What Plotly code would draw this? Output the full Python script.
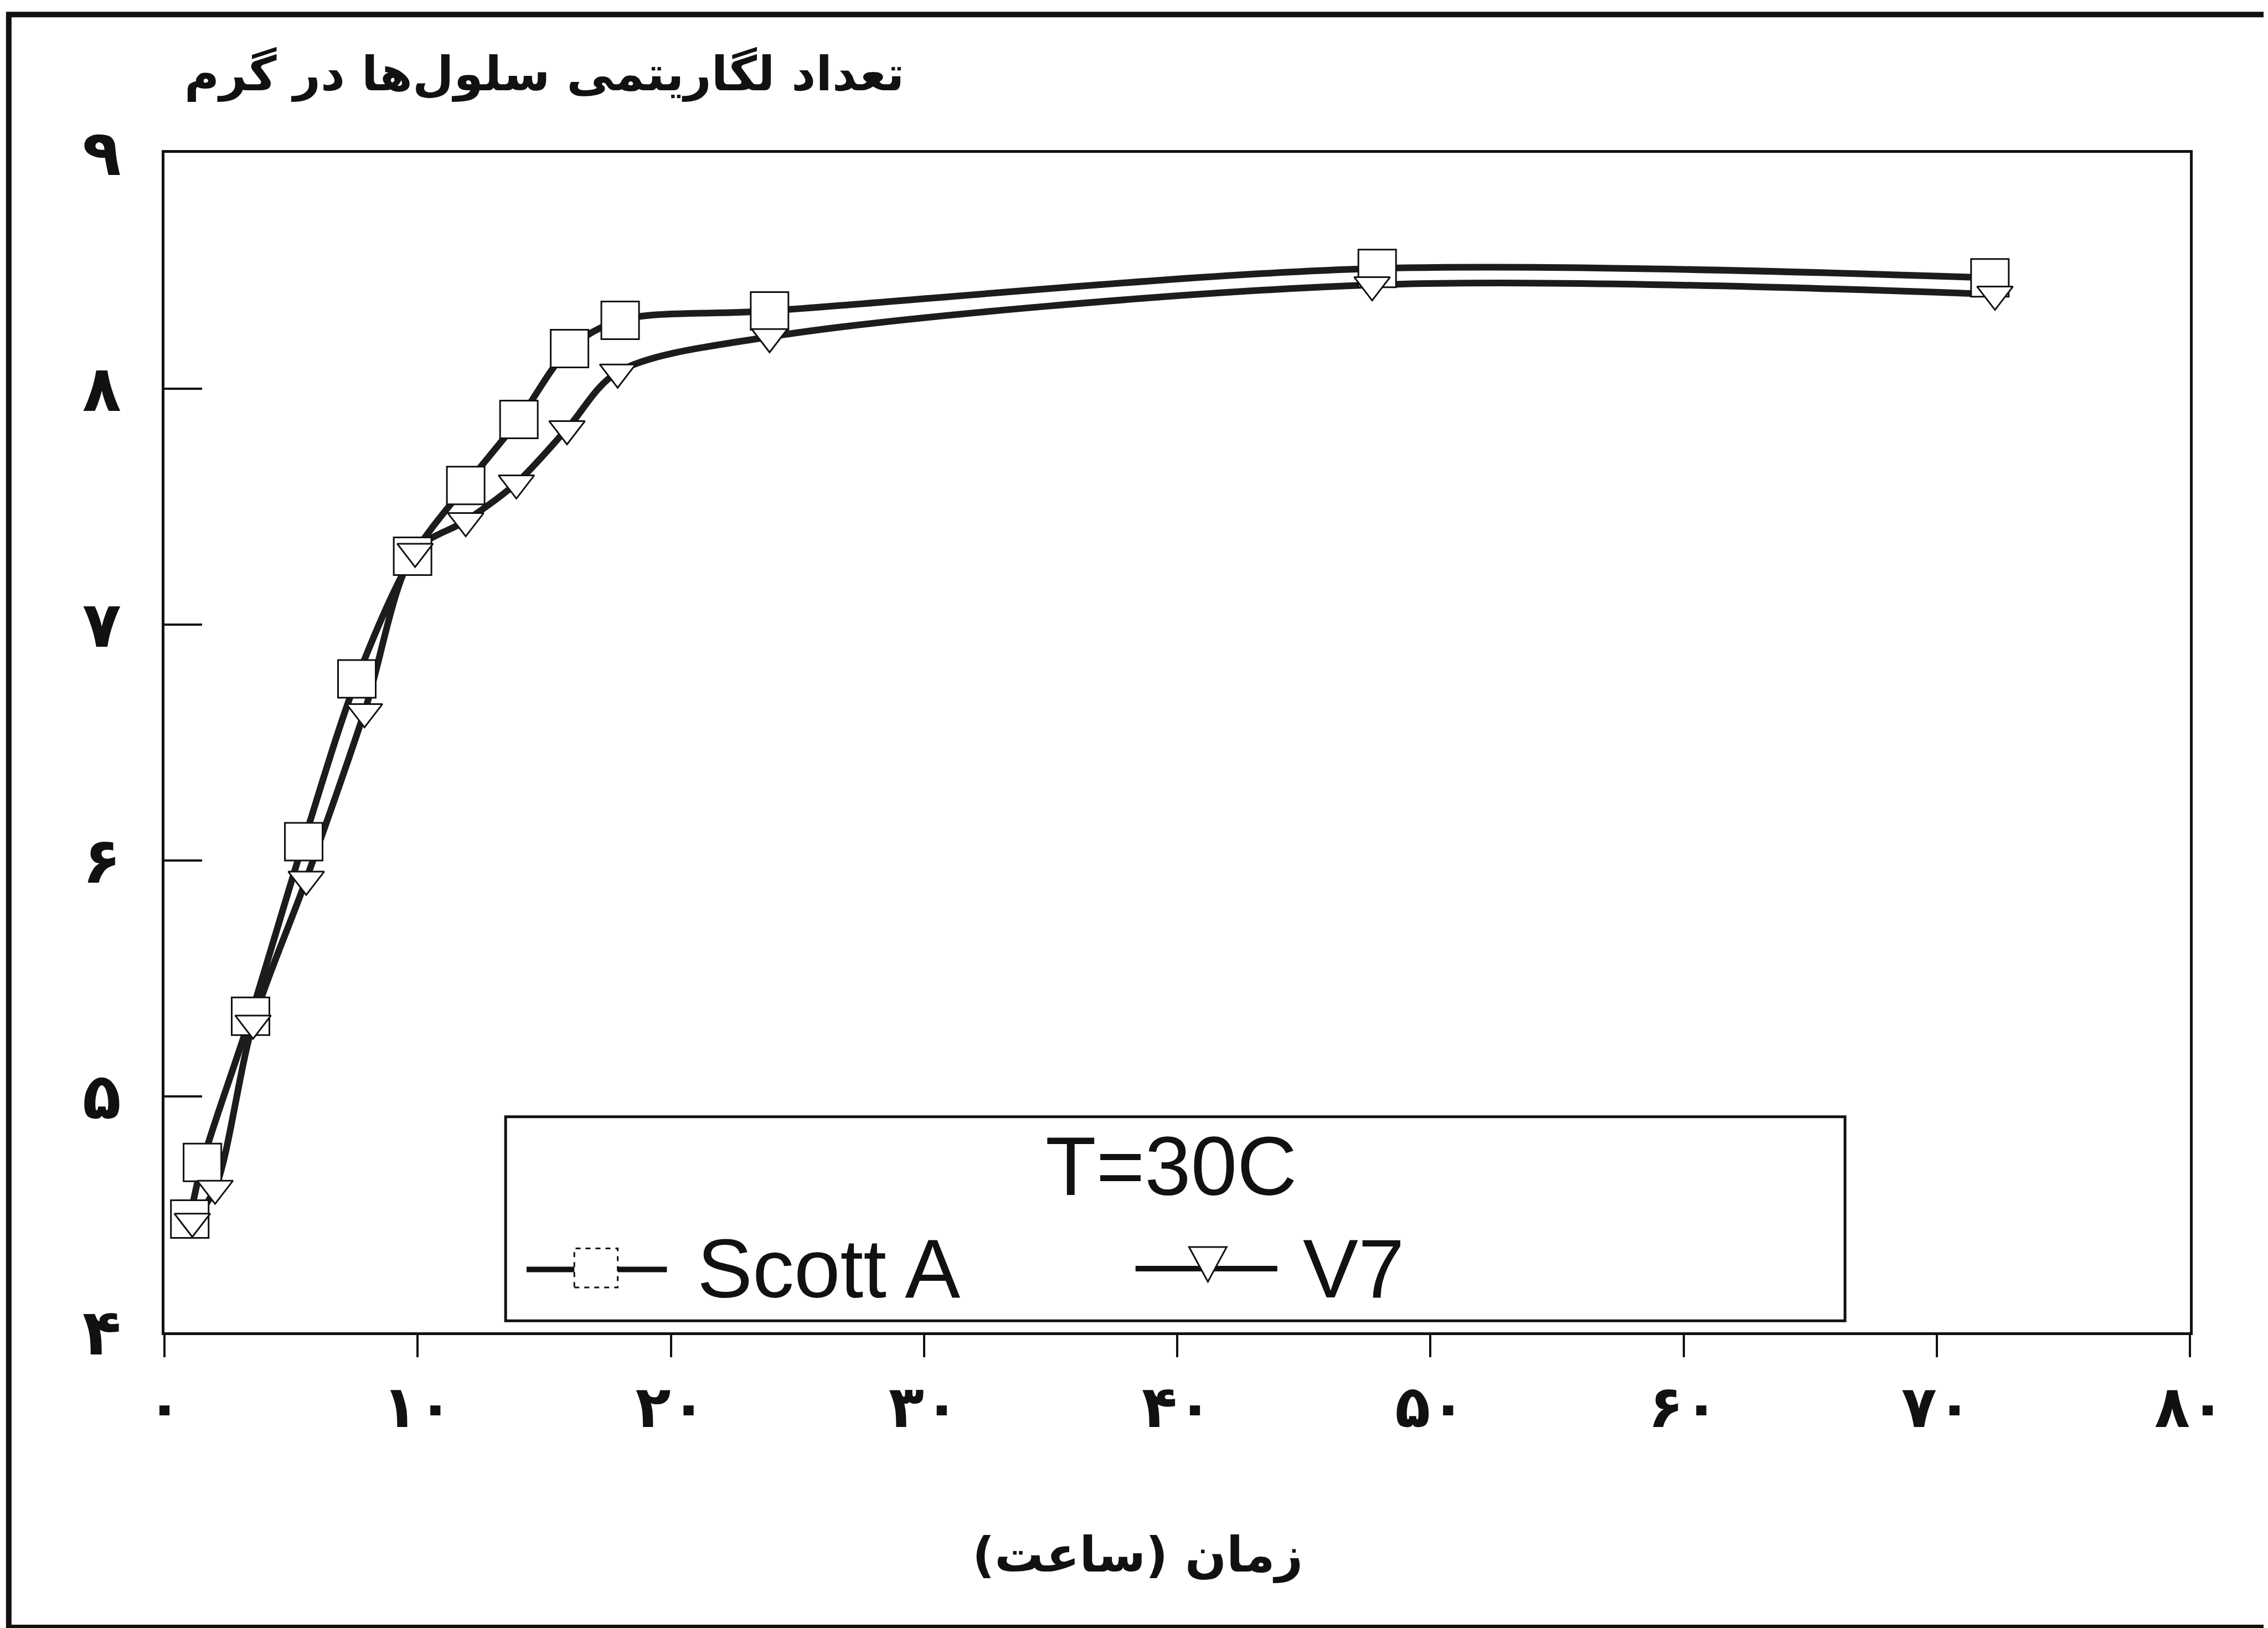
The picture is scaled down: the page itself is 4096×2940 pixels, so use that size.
import plotly.graph_objects as go

# ---------------- data ----------------
scott_time = [1.0, 1.5, 3.4, 5.5, 7.6, 9.8, 11.9, 14.0, 16.0, 18.0, 23.9, 47.9, 72.1]
scott_log = [4.48, 4.72, 5.34, 6.08, 6.77, 7.29, 7.59, 7.87, 8.17, 8.29, 8.33, 8.51, 8.47]
v7_time = [1.1, 2.0, 3.5, 5.6, 7.9, 9.9, 11.9, 13.9, 15.9, 17.9, 23.9, 47.7, 72.3]
v7_log = [4.47, 4.61, 5.31, 5.92, 6.63, 7.31, 7.44, 7.60, 7.83, 8.07, 8.22, 8.44, 8.40]

x_tickvals = [0, 10, 20, 30, 40, 50, 60, 70, 80]
x_ticktext = ["۰", "۱۰", "۲۰", "۳۰", "۴۰", "۵۰", "۶۰", "۷۰", "۸۰"]
y_tickvals = [4, 5, 6, 7, 8, 9]
y_ticktext = ["۴", "۵", "۶", "۷", "۸", "۹"]

y_title = "تعداد لگاریتمی سلول‌ها در گرم"
x_title = "زمان (ساعت)"
legend_title = "T=30C"
series_names = ["Scott A", "V7"]

# ---------------- layout geometry ----------------
W, H = 4096, 2940
S = W / 1568.0
ML, MR, MT, MB = 289, 149, 268, 542
PW = W - ML - MR
PH = H - MT - MB


def px(xd):
    return (xd * S - ML) / PW


def py(yd):
    return (H - MB - yd * S) / PH


INK = "#111111"
LINE = "#1c1c1c"
FA = "DejaVu Sans"
LA = "Liberation Sans, Arial, sans-serif"

fig = go.Figure()

# curves first
for t, v, nm in [(scott_time, scott_log, series_names[0]), (v7_time, v7_log, series_names[1])]:
    fig.add_trace(go.Scatter(
        x=t, y=v, mode="lines", name=nm, showlegend=False,
        line=dict(color=LINE, width=12, shape="spline", smoothing=0.9),
        hoverinfo="skip"))

# hollow markers on top
fig.add_trace(go.Scatter(
    x=scott_time, y=scott_log, mode="markers", name=series_names[0], showlegend=False,
    marker=dict(symbol="square", size=68, color="white", line=dict(color=INK, width=3))))
fig.add_trace(go.Scatter(
    x=v7_time, y=v7_log, mode="markers", name=series_names[1], showlegend=False,
    marker=dict(symbol="triangle-down", size=56, color="white", line=dict(color=INK, width=3))))

shapes = []
# outer frame of the picture
shapes.append(dict(type="rect", xref="paper", yref="paper",
                   x0=px(3), x1=px(1565), y0=py(1122), y1=py(7),
                   line=dict(color=INK, width=10), fillcolor="rgba(0,0,0,0)", layer="above"))
# legend box
shapes.append(dict(type="rect", xref="paper", yref="paper",
                   x0=px(346.5), x1=px(1272.5), y0=py(910), y1=py(769),
                   line=dict(color=INK, width=5), fillcolor="white", layer="above"))
# legend key 1 (line + square)
shapes.append(dict(type="line", xref="paper", yref="paper",
                   x0=px(361), x1=px(458), y0=py(874.5), y1=py(874.5),
                   line=dict(color=INK, width=10), layer="above"))
shapes.append(dict(type="rect", xref="paper", yref="paper",
                   x0=px(394), x1=px(424), y0=py(887), y1=py(860),
                   line=dict(color=INK, width=3, dash="dash"), fillcolor="white", layer="above"))
# legend key 2 (line + inverted triangle)
shapes.append(dict(type="line", xref="paper", yref="paper",
                   x0=px(782), x1=px(880), y0=py(874), y1=py(874),
                   line=dict(color=INK, width=10), layer="above"))
tri = "M {a},{b} L {c},{d} L {e},{f} Z".format(
    a=px(819), b=py(859), c=px(845), d=py(859), e=px(832), f=py(883))
shapes.append(dict(type="path", xref="paper", yref="paper", path=tri,
                   line=dict(color=INK, width=3), fillcolor="white", layer="above"))

annotations = [
    dict(text=y_title, xref="paper", yref="paper", x=px(623), y=py(48),
         xanchor="right", yanchor="middle", showarrow=False,
         font=dict(family=FA, size=86, color=INK, weight="bold")),
    dict(text=x_title, xref="paper", yref="paper", x=px(783.5), y=py(1071.5),
         xanchor="center", yanchor="middle", showarrow=False,
         font=dict(family=FA, size=88, color=INK, weight="bold")),
    dict(text=legend_title, xref="paper", yref="paper", x=px(806.5), y=py(803),
         xanchor="center", yanchor="middle", showarrow=False,
         font=dict(family=LA, size=150, color=INK)),
    dict(text=series_names[0], xref="paper", yref="paper", x=px(478), y=py(874),
         xanchor="left", yanchor="middle", showarrow=False,
         font=dict(family=LA, size=150, color=INK)),
    dict(text=series_names[1], xref="paper", yref="paper", x=px(897), y=py(874),
         xanchor="left", yanchor="middle", showarrow=False,
         font=dict(family=LA, size=150, color=INK)),
]

fig.update_layout(
    width=W, height=H,
    margin=dict(l=ML, r=MR, t=MT, b=MB),
    paper_bgcolor="white", plot_bgcolor="white",
    showlegend=False,
    shapes=shapes, annotations=annotations,
    font=dict(family=FA, color=INK),
)

fig.update_xaxes(
    range=[0, 80], tickmode="array", tickvals=x_tickvals, ticktext=x_ticktext,
    showgrid=False, zeroline=False, showline=True, linecolor=INK, linewidth=5, mirror=True,
    ticks="outside", ticklen=40, tickwidth=4, tickcolor=INK,
    tickfont=dict(family=FA, size=105, color=INK, weight="bold"),
    ticklabelstandoff=0,
)
fig.update_yaxes(
    range=[4, 9], tickmode="array", tickvals=y_tickvals, ticktext=y_ticktext,
    showgrid=False, zeroline=False, showline=True, linecolor=INK, linewidth=5, mirror=True,
    ticks="inside", ticklen=68, tickwidth=4, tickcolor=INK,
    tickfont=dict(family=FA, size=115, color=INK, weight="bold"),
    ticklabelstandoff=50,
)

fig.write_html("out.html")
